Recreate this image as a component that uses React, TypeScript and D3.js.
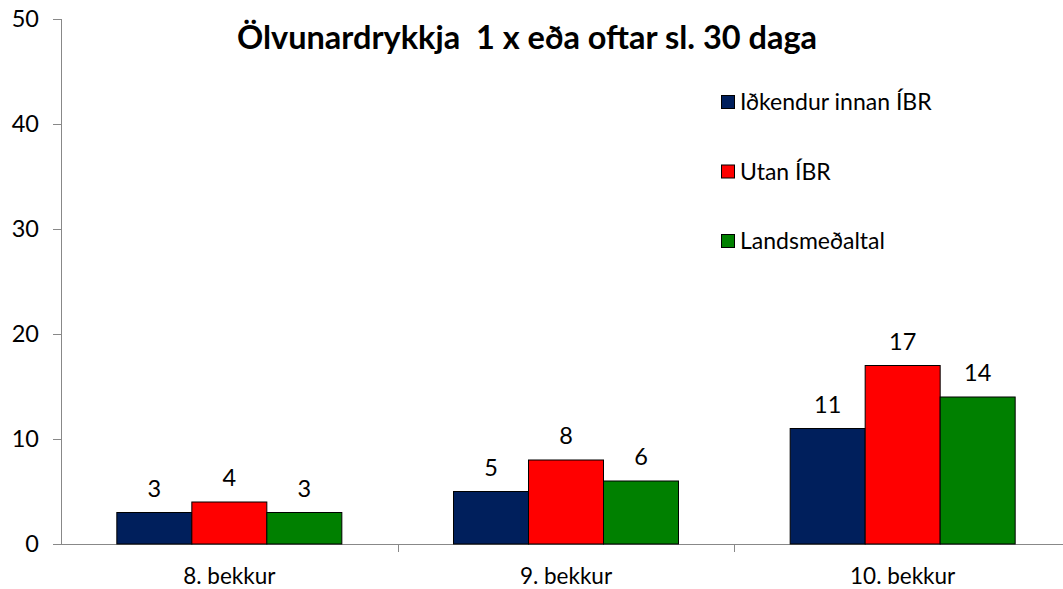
import React from "react";
import * as d3 from "d3";

const categories = ["8. bekkur", "9. bekkur", "10. bekkur"];
const seriesNames = ["Iðkendur innan ÍBR", "Utan ÍBR", "Landsmeðaltal"];
const innanIBR = [3, 5, 11];
const utanIBR = [4, 8, 17];
const landsmedaltal = [3, 6, 14];
const yTicks = [0, 10, 20, 30, 40, 50];
const colors = ["#001F5C", "#FF0000", "#008000"];

const W = 1063;
const H = 589;
const FONT = "Lato, 'Open Sans', sans-serif";

export default function App() {
  const series = [innanIBR, utanIBR, landsmedaltal];
  const x = d3.scaleBand<string>().domain(categories).range([61, 1071]).paddingInner(0).paddingOuter(0);
  const y = d3.scaleLinear().domain([0, 50]).range([544, 19]);
  const inner = d3.scaleBand<number>().domain([0, 1, 2]).range([0, 225]).padding(0);
  const groupOffset = (x.bandwidth() - 225) / 2;

  return (
    <svg width={W} height={H} style={{ position: "absolute", left: 0, top: 0, background: "#fff" }} fontFamily={FONT}>
      <rect x={0} y={0} width={W} height={H} fill="#fff" />
      <line x1={61.5} x2={61.5} y1={y(50)} y2={y(0)} stroke="#888" strokeWidth={1} />
      {yTicks.map((t) => (
        <g key={t}>
          <line x1={53} x2={61.5} y1={Math.round(y(t)) + 0.5} y2={Math.round(y(t)) + 0.5} stroke="#888" />
          <text x={39} y={y(t)} dy="0.36em" textAnchor="end" fontSize={23.5} fill="#000">{t}</text>
        </g>
      ))}
      <line x1={61} x2={1063} y1={544.5} y2={544.5} stroke="#888" />
      {categories.map((c, i) => (
        <g key={c}>
          {i > 0 && (
            <line x1={Math.round(x(c)!) + 0.5} x2={Math.round(x(c)!) + 0.5} y1={544} y2={552} stroke="#888" />
          )}
          <text x={x(c)! + x.bandwidth() / 2} y={584} textAnchor="middle" fontSize={22.5} fill="#000">{c}</text>
        </g>
      ))}
      {categories.map((c, ci) => (
        <g key={c}>
          {series.map((s, si) => {
            const bx = x(c)! + groupOffset + inner(si)!;
            const by = y(s[ci]);
            return (
              <g key={si}>
                <rect x={bx} y={by} width={inner.bandwidth()} height={y(0) - by} fill={colors[si]} stroke="#000" strokeWidth={1} />
                <text x={bx + inner.bandwidth() / 2} y={by - 16} textAnchor="middle" fontSize={23.5} fill="#000">{s[ci]}</text>
              </g>
            );
          })}
        </g>
      ))}
      <text x={527} y={49} textAnchor="middle" fontSize={32.5} fontWeight="bold" fill="#000" style={{ whiteSpace: "pre" }} xmlSpace="preserve">Ölvunardrykkja  1 x eða oftar sl. 30 daga</text>
      {seriesNames.map((n, i) => {
        const cy = 102 + i * 69.5;
        return (
          <g key={n}>
            <rect x={721.5} y={cy - 6.5} width={13} height={13} fill={colors[i]} stroke="#000" strokeWidth={1} />
            <text x={740} y={cy} dy="0.36em" fontSize={23} fill="#000">{n}</text>
          </g>
        );
      })}
    </svg>
  );
}
